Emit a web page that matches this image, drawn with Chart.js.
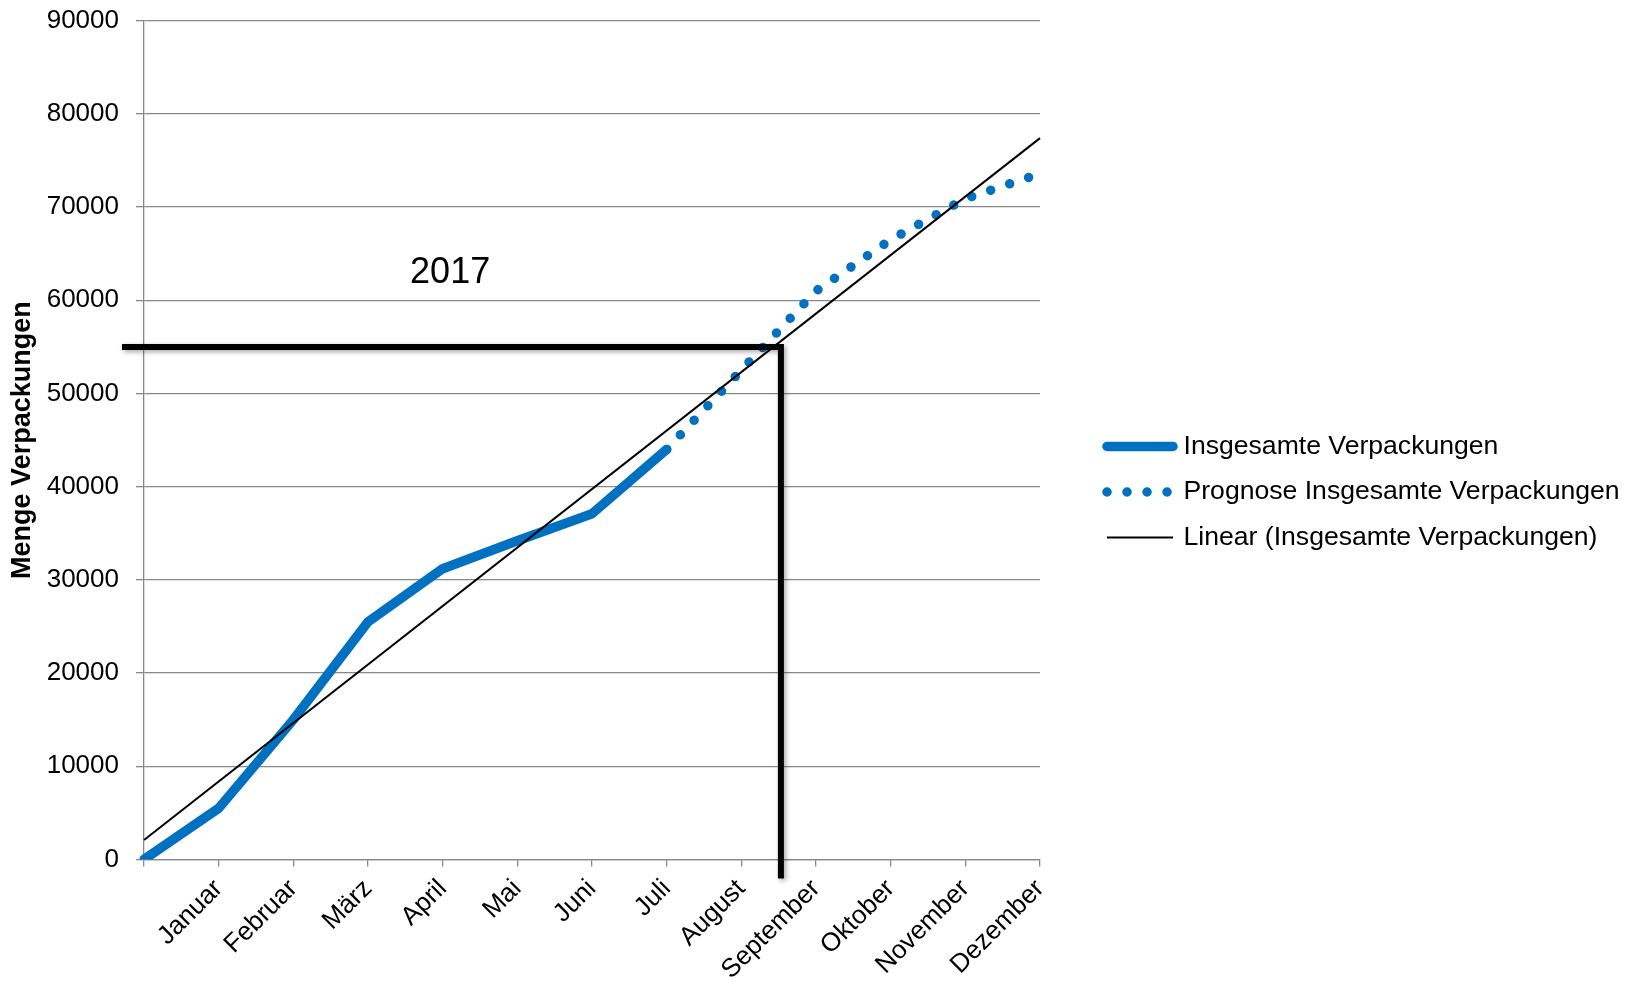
<!DOCTYPE html>
<html lang="de">
<head>
<meta charset="utf-8">
<title>Menge Verpackungen 2017</title>
<script src="https://cdn.jsdelivr.net/npm/chart.js@4.4.1/dist/chart.umd.min.js"></script>
<style>
    html, body { margin: 0; padding: 0; background: #fff; }
    #wrap { width: 1635px; height: 982px; position: relative; }
</style>
</head>
<body>
<div id="wrap"><canvas id="mainChart"></canvas></div>
<script>
// ================= DATA =================
const months = ['', 'Januar', 'Februar', 'März', 'April', 'Mai', 'Juni', 'Juli',
    'August', 'September', 'Oktober', 'November', 'Dezember'];

const totalPackages    = [0, 5500, 15000, 25500, 31200, 34200, 37100, 44000, null, null, null, null, null];
const forecastPackages = [null, null, null, null, null, null, null, 44000, 52500, 61000, 66500, 70900, 73600];
const trendPackages    = [2100, null, null, null, null, null, null, null, null, null, null, null, 77400];

const yTicks = [0, 10000, 20000, 30000, 40000, 50000, 60000, 70000, 80000, 90000];

// marker lines (drawn shapes) and year label, in data units
const markerValue = 55000;
const markerMonth = 8.53;
const yearLabel = '2017';
const yearLabelAt = [4.1, 61900];

const FONT = "'Liberation Sans', Arial, sans-serif";
const GRID = '#888888';

// --- marker lines + year text ---
const markerPlugin = {
    id: 'markers',
    afterDatasetsDraw(chart) {
        const { ctx, scales: { x, y } } = chart;
        const px = x.getPixelForValue(markerMonth);
        const py = y.getPixelForValue(markerValue);

        ctx.save();
        ctx.strokeStyle = '#000';
        ctx.lineWidth = 6;
        ctx.lineJoin = 'miter';
        ctx.shadowColor = 'rgba(0,0,0,0.35)';
        ctx.shadowBlur = 5;
        ctx.shadowOffsetX = 2;
        ctx.shadowOffsetY = 2;
        ctx.beginPath();
        ctx.moveTo(x.left - 22, py);
        ctx.lineTo(px, py);
        ctx.lineTo(px, y.bottom + 19);
        ctx.stroke();
        ctx.restore();

        ctx.save();
        ctx.fillStyle = '#000';
        ctx.font = '36px ' + FONT;
        ctx.textAlign = 'center';
        ctx.textBaseline = 'alphabetic';
        ctx.fillText(yearLabel, x.getPixelForValue(yearLabelAt[0]), y.getPixelForValue(yearLabelAt[1]));
        ctx.restore();
    }
};

// --- legend on the right, drawn from the datasets ---
const sideLegend = {
    id: 'sideLegend',
    afterDraw(chart) {
        const { ctx, chartArea } = chart;
        const x0 = chartArea.right + 67;
        const x1 = chartArea.right + 133;
        const tx = chartArea.right + 143.5;
        let rowY = chartArea.top + 425.8;

        chart.data.datasets.forEach(ds => {
            ctx.save();
            ctx.strokeStyle = ds.borderColor;
            ctx.lineWidth = ds.borderWidth;
            ctx.lineCap = ds.borderCapStyle || 'butt';
            ctx.setLineDash(ds.borderDash || []);
            ctx.beginPath();
            ctx.moveTo(x0, rowY);
            ctx.lineTo(x1, rowY);
            ctx.stroke();
            ctx.restore();

            ctx.save();
            ctx.fillStyle = '#000';
            ctx.font = '26.6px ' + FONT;
            ctx.textAlign = 'left';
            ctx.textBaseline = 'middle';
            ctx.fillText(ds.label, tx, rowY);
            ctx.restore();

            rowY += 45.5;
        });
    }
};

Chart.defaults.font.family = FONT;

const ctx = document.getElementById('mainChart').getContext('2d');
const mainChart = new Chart(ctx, {
    type: 'line',
    data: {
        labels: months,
        datasets: [
            { label: 'Insgesamte Verpackungen', data: totalPackages, borderColor: '#0070C0', borderWidth: 9.5,
              borderCapStyle: 'round', borderJoinStyle: 'round', pointRadius: 0, tension: 0, order: 1 },
            { label: 'Prognose Insgesamte Verpackungen', data: forecastPackages, borderColor: '#0070C0', borderWidth: 9.5,
              borderCapStyle: 'round', borderDash: [0.01, 20], pointRadius: 0, tension: 0, order: 2 },
            { label: 'Linear (Insgesamte Verpackungen)', data: trendPackages, borderColor: '#000000', borderWidth: 2,
              spanGaps: true, pointRadius: 0, tension: 0, order: 0 }
        ]
    },
    options: {
        responsive: true,
        maintainAspectRatio: false,
        animation: false,
        events: [],
        layout: { padding: { top: 20.7, right: 595, left: 0, bottom: 0 } },
        scales: {
            x: {
                offset: false,
                grid: { display: true, drawOnChartArea: false, drawTicks: true, tickLength: 7, color: GRID, lineWidth: 1.3 },
                border: { display: true, color: GRID, width: 1.3 },
                ticks: { autoSkip: false, minRotation: 45, maxRotation: 45, color: '#000', font: { size: 26 }, padding: 7 },
                afterFit: s => { s.height = 122.5; }
            },
            y: {
                min: 0,
                max: 90000,
                afterBuildTicks: s => { s.ticks = yTicks.map(v => ({ value: v })); },
                grid: { color: GRID, lineWidth: 1.3, tickLength: 8 },
                border: { display: true, color: GRID, width: 1.3 },
                ticks: { color: '#000', font: { size: 26 }, padding: 17, callback: v => String(v) },
                title: { display: true, text: 'Menge Verpackungen', color: '#000',
                         font: { size: 27, weight: 'bold' }, padding: { top: 6, bottom: 0 } },
                afterFit: s => { s.width = 144; s.paddingTop = 0; s.paddingBottom = 0; }
            }
        },
        plugins: { legend: { display: false }, tooltip: { enabled: false } }
    },
    plugins: [markerPlugin, sideLegend]
});
</script>
</body>
</html>
